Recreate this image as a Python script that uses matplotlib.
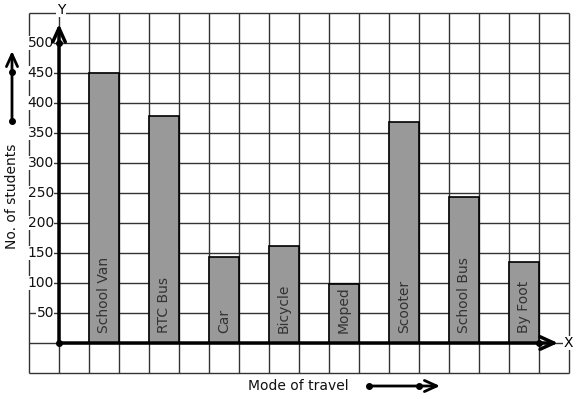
import matplotlib
matplotlib.use("Agg")
import matplotlib.pyplot as plt

categories = ["School Van", "RTC Bus", "Car", "Bicycle", "Moped", "Scooter", "School Bus", "By Foot"]
values = [450, 378, 143, 162, 98, 368, 243, 135]
yticks = [50, 100, 150, 200, 250, 300, 350, 400, 450, 500]

W, H = 577, 399
fig = plt.figure(figsize=(W / 100, H / 100), dpi=100)
ax = fig.add_axes([0, 0, 1, 1])
ax.set_axis_off()

# data units: 1 grid cell = 1 x-unit = 50 y-units; origin at pixel (59, 343)
def px2x(p):
    return (p - 59) / 30.0

def py2y(p):
    return (343 - p) / 0.6

ax.set_xlim(px2x(0), px2x(W))
ax.set_ylim(py2y(H), py2y(0))

grid_col = "#333333"
xs = [i for i in range(-1, 18)]
ys = [j * 50 for j in range(-1, 12)]
ax.vlines(xs, -50, 550, color=grid_col, lw=1.0, zorder=1)
ax.hlines(ys, -1, 17, color=grid_col, lw=1.0, zorder=1)

pos = [1.5 + 2 * i for i in range(len(categories))]
ax.bar(pos, values, width=1.0, color="#999999", edgecolor="black", lw=1.2, zorder=2)
for p, c in zip(pos, categories):
    ax.text(p, 17, c, rotation=90, ha="center", va="bottom", fontsize=10,
            color="#333333", zorder=3, family="DejaVu Sans")

astyle = "->,head_width=0.25,head_length=0.55"
# axes with arrows
ax.annotate("", xy=(0, py2y(24)), xytext=(0, 0),
            arrowprops=dict(arrowstyle=astyle, lw=2.5, color="black", mutation_scale=18,
                            shrinkA=0, shrinkB=0), zorder=4)
ax.annotate("", xy=(px2x(558), 0), xytext=(0, 0),
            arrowprops=dict(arrowstyle=astyle, lw=2.5, color="black", mutation_scale=18,
                            shrinkA=0, shrinkB=0), zorder=4)
ax.plot([0, 0, 16], [0, 500, 0], "o", color="black", ms=4, zorder=5)

for v in yticks:
    ax.text(px2x(54), v, str(v), ha="right", va="center", fontsize=10, color="#111111",
            bbox=dict(facecolor="white", edgecolor="none", pad=0.3), zorder=3)

ax.text(px2x(61), py2y(10), "Y", ha="center", va="center", fontsize=10,
        bbox=dict(facecolor="white", edgecolor="none", pad=0.3), zorder=3)
ax.text(px2x(568), 0, "X", ha="center", va="center", fontsize=10,
        bbox=dict(facecolor="white", edgecolor="none", pad=0.3), zorder=3)

ax.text(px2x(12), py2y(196), "No. of students", rotation=90, ha="center", va="center",
        fontsize=10, color="#111111")
ax.text(px2x(298), py2y(386), "Mode of travel", ha="center", va="center",
        fontsize=10, color="#111111")

# decorative direction arrows
ax.annotate("", xy=(px2x(12), py2y(51)), xytext=(px2x(12), py2y(121)),
            arrowprops=dict(arrowstyle=astyle, lw=2, color="black", mutation_scale=16,
                            shrinkA=0, shrinkB=0))
ax.plot([px2x(12), px2x(12)], [py2y(72), py2y(121)], "o", color="black", ms=4)
ax.annotate("", xy=(px2x(440), py2y(386)), xytext=(px2x(369), py2y(386)),
            arrowprops=dict(arrowstyle=astyle, lw=2, color="black", mutation_scale=16,
                            shrinkA=0, shrinkB=0))
ax.plot([px2x(369), px2x(419)], [py2y(386), py2y(386)], "o", color="black", ms=4)

fig.savefig("out.png", dpi=100)
